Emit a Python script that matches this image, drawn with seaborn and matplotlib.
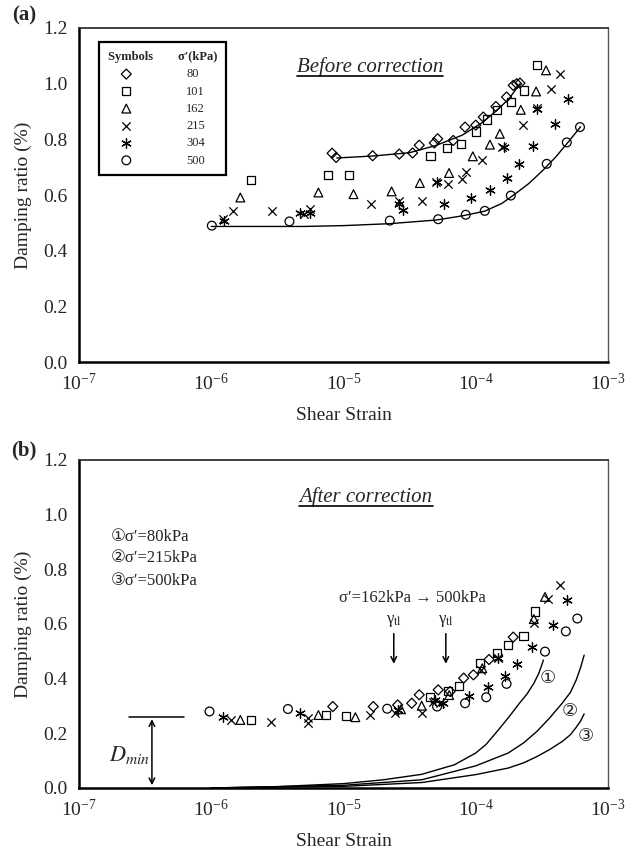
import numpy as np
import seaborn as sns
import matplotlib.pyplot as plt
from matplotlib.lines import Line2D
from matplotlib.ticker import NullLocator, FormatStrFormatter

# ---------------- (a) before correction ----------------
a80_x = [8.2e-6, 8.8e-6, 1.66e-5, 2.64e-5, 3.33e-5, 3.74e-5, 4.86e-5, 5.15e-5, 6.76e-5,
         8.3e-5, 1.0e-4, 1.14e-4, 1.42e-4, 1.71e-4, 1.92e-4, 2.04e-4, 2.16e-4]
a80_y = [0.75, 0.735, 0.741, 0.747, 0.751, 0.779, 0.787, 0.802, 0.796,
         0.844, 0.851, 0.880, 0.918, 0.952, 0.994, 1.0, 1.002]
a101_x = [1.99e-6, 7.6e-6, 1.10e-5, 4.56e-5, 6.03e-5, 7.73e-5, 1.0e-4, 1.22e-4, 1.44e-4,
          1.84e-4, 2.32e-4, 2.92e-4]
a101_y = [0.655, 0.673, 0.673, 0.739, 0.769, 0.784, 0.828, 0.871, 0.905,
          0.934, 0.976, 1.068]
a162_x = [1.66e-6, 6.46e-6, 1.19e-5, 2.31e-5, 3.78e-5, 6.28e-5, 9.5e-5, 1.28e-4, 1.52e-4,
          2.19e-4, 2.86e-4, 3.40e-4]
a162_y = [0.591, 0.609, 0.603, 0.613, 0.643, 0.679, 0.739, 0.781, 0.820,
          0.906, 0.972, 1.048]
a215_x = [1.23e-6, 1.45e-6, 2.9e-6, 5.0e-6, 5.58e-6, 1.61e-5, 2.64e-5, 3.9e-5, 4.98e-5,
          6.19e-5, 7.9e-5, 8.5e-5, 1.11e-4, 1.57e-4, 2.26e-4, 2.92e-4, 3.69e-4, 4.34e-4]
a215_y = [0.513, 0.541, 0.541, 0.532, 0.549, 0.567, 0.577, 0.577, 0.646,
          0.639, 0.657, 0.681, 0.727, 0.771, 0.850, 0.912, 0.981, 1.036]
a304_x = [1.25e-6, 4.69e-6, 5.58e-6, 2.64e-5, 2.83e-5, 5.06e-5, 5.78e-5, 9.2e-5, 1.28e-4,
          1.64e-4, 1.71e-4, 2.14e-4, 2.72e-4, 2.92e-4, 3.98e-4, 4.95e-4]
a304_y = [0.506, 0.537, 0.537, 0.567, 0.547, 0.646, 0.567, 0.591, 0.619,
          0.772, 0.661, 0.711, 0.777, 0.909, 0.856, 0.946]
a500_x = [1.01e-6, 3.9e-6, 2.24e-5, 5.2e-5, 8.4e-5, 1.17e-4, 1.84e-4, 3.44e-4, 4.88e-4, 6.14e-4]
a500_y = [0.490, 0.505, 0.508, 0.513, 0.529, 0.543, 0.598, 0.712, 0.789, 0.844]

# fitted curves drawn in (a)
fit80_x = [8.9e-6, 1.66e-5, 3.16e-5, 5.0e-5, 7.9e-5, 1.12e-4, 1.41e-4, 1.78e-4, 2.16e-4]
fit80_y = [0.733, 0.740, 0.752, 0.778, 0.815, 0.860, 0.900, 0.945, 1.0]
fit500_x = [1.0e-6, 5.0e-6, 1.0e-5, 2.24e-5, 5.0e-5, 7.9e-5, 1.17e-4, 1.58e-4, 2.0e-4,
            2.5e-4, 3.16e-4, 4.0e-4, 5.0e-4, 6.2e-4]
fit500_y = [0.487, 0.487, 0.490, 0.497, 0.510, 0.525, 0.542, 0.570, 0.605,
            0.640, 0.685, 0.735, 0.790, 0.845]

# ---------------- (b) after correction ----------------
b80_x = [8.3e-6, 1.68e-5, 2.57e-5, 3.28e-5, 3.74e-5, 5.2e-5, 6.4e-5, 8.1e-5, 9.6e-5,
         1.26e-4, 1.92e-4]
b80_y = [0.298, 0.298, 0.304, 0.31, 0.341, 0.359, 0.353, 0.402, 0.414, 0.47, 0.552]
b101_x = [2.0e-6, 7.4e-6, 1.05e-5, 4.5e-5, 6.2e-5, 7.5e-5, 1.08e-4, 1.44e-4, 1.76e-4,
          2.29e-4, 2.81e-4]
b101_y = [0.249, 0.267, 0.264, 0.334, 0.356, 0.374, 0.457, 0.493, 0.524, 0.557, 0.646]
b162_x = [1.66e-6, 6.46e-6, 1.23e-5, 2.72e-5, 3.9e-5, 6.3e-5, 1.12e-4, 2.75e-4, 3.34e-4]
b162_y = [0.249, 0.267, 0.259, 0.288, 0.301, 0.34, 0.438, 0.618, 0.699]
b215_x = [1.41e-6, 2.85e-6, 5.43e-6, 5.43e-6, 1.58e-5, 2.45e-5, 3.9e-5, 4.78e-5, 5.35e-5,
          1.09e-4, 1.48e-4, 2.75e-4, 3.54e-4, 4.34e-4]
b215_y = [0.247, 0.243, 0.255, 0.237, 0.267, 0.274, 0.276, 0.316, 0.31,
          0.432, 0.475, 0.603, 0.691, 0.744]
b304_x = [1.23e-6, 4.68e-6, 2.6e-5, 4.95e-5, 5.7e-5, 8.9e-5, 1.24e-4, 1.48e-4, 1.66e-4,
          2.04e-4, 2.65e-4, 3.86e-4, 4.86e-4]
b304_y = [0.259, 0.276, 0.285, 0.322, 0.31, 0.337, 0.371, 0.475, 0.408,
          0.454, 0.515, 0.597, 0.686]
b500_x = [9.7e-7, 3.8e-6, 2.14e-5, 5.1e-5, 8.3e-5, 1.2e-4, 1.71e-4, 3.34e-4, 4.8e-4, 5.86e-4]
b500_y = [0.280, 0.289, 0.29, 0.298, 0.31, 0.332, 0.381, 0.499, 0.573, 0.62]

# model curves 1, 2, 3 in (b)
c1_x = [1.0e-6, 3.16e-6, 1.0e-5, 2.0e-5, 3.9e-5, 6.9e-5, 1.0e-4, 1.2e-4, 1.45e-4, 1.75e-4,
        2.14e-4, 2.45e-4, 2.75e-4, 3.0e-4, 3.25e-4]
c1_y = [0.0, 0.005, 0.016, 0.03, 0.05, 0.085, 0.128, 0.16, 0.207, 0.255,
        0.31, 0.345, 0.383, 0.42, 0.468]
c2_x = [1.0e-6, 1.0e-5, 3.9e-5, 1.0e-4, 1.76e-4, 2.3e-4, 2.9e-4, 3.6e-4, 4.5e-4, 5.2e-4,
        5.75e-4, 6.2e-4, 6.6e-4]
c2_y = [0.0, 0.01, 0.03, 0.081, 0.128, 0.165, 0.207, 0.255, 0.31, 0.35,
        0.395, 0.44, 0.486]
c3_x = [1.0e-6, 1.0e-5, 3.9e-5, 1.0e-4, 1.76e-4, 2.3e-4, 2.9e-4, 3.6e-4, 4.5e-4, 5.2e-4,
        5.75e-4, 6.2e-4, 6.6e-4]
c3_y = [0.0, 0.006, 0.02, 0.049, 0.073, 0.092, 0.115, 0.14, 0.17, 0.195,
        0.222, 0.245, 0.271]

stress_labels = ['80', '101', '162', '215', '304', '500']
markers = ['D', 's', '^', 'x', (6, 2, 0), 'o']
sizes = [26, 36, 40, 36, 48, 40]

xticks = [1e-7, 1e-6, 1e-5, 1e-4, 1e-3]
yticks = [0.0, 0.2, 0.4, 0.6, 0.8, 1.0, 1.2]

sns.set_style('white')
sym_font = ['Liberation Serif', 'DejaVu Sans', 'Noto Sans CJK JP']
plt.rcParams['font.family'] = sym_font
plt.rcParams['mathtext.fontset'] = 'stix'

fig = plt.figure(figsize=(6.27, 8.51), dpi=100)
ax1 = fig.add_axes([79 / 627, 1 - 362 / 851, 529 / 627, 334 / 851])
ax2 = fig.add_axes([79 / 627, 1 - 788 / 851, 529 / 627, 328 / 851])


def points(ax, x, y, m, s, label=None):
    if m in ('x', (6, 2, 0)):
        sns.scatterplot(x=x, y=y, marker=m, s=s, color='k', linewidth=0.9,
                        ax=ax, label=label, zorder=3)
    else:
        sns.scatterplot(x=x, y=y, marker=m, s=s, facecolor='none', edgecolor='k',
                        linewidth=0.9, ax=ax, label=label, zorder=3)


def style_axes(ax):
    ax.set_xscale('log')
    ax.set_xlim(1e-7, 1e-3)
    ax.set_ylim(0, 1.2)
    ax.set_xticks(xticks)
    ax.xaxis.set_minor_locator(NullLocator())
    ax.set_yticks(yticks)
    ax.yaxis.set_major_formatter(FormatStrFormatter('%.1f'))
    ax.tick_params(axis='x', direction='in', length=6, width=1.2, labelsize=14, pad=8)
    ax.tick_params(axis='y', direction='out', length=5, width=1.2, labelsize=14, pad=3)
    for sp in ['left', 'bottom']:
        ax.spines[sp].set_linewidth(1.8)
        ax.spines[sp].set_color('k')
    ax.spines['top'].set_linewidth(1.3)
    ax.spines['top'].set_color('#333333')
    ax.spines['right'].set_linewidth(1.0)
    ax.spines['right'].set_color('#555555')
    ax.set_xlabel('Shear Strain', fontsize=14, labelpad=9)
    ax.set_ylabel('Damping ratio (%)', fontsize=14, labelpad=8)


# panel (a)
a_x = [a80_x, a101_x, a162_x, a215_x, a304_x, a500_x]
a_y = [a80_y, a101_y, a162_y, a215_y, a304_y, a500_y]
for x, y, m, s, lab in zip(a_x, a_y, markers, sizes, stress_labels):
    points(ax1, x, y, m, s, lab)
sns.lineplot(x=fit80_x, y=fit80_y, color='k', linewidth=1.0, sort=False, estimator=None, ax=ax1)
sns.lineplot(x=fit500_x, y=fit500_y, color='k', linewidth=1.0, sort=False, estimator=None, ax=ax1)
style_axes(ax1)

leg = ax1.legend(loc='upper left', bbox_to_anchor=(0.038, 0.957),
                 title='Symbols        σ′(kPa)', fontsize=9,
                 title_fontproperties={'weight': 'bold', 'size': 9, 'family': sym_font},
                 frameon=True, fancybox=False, edgecolor='k', framealpha=1,
                 handletextpad=4.3, borderpad=0.7, labelspacing=0.42,
                 handlelength=1.0, scatterpoints=1, borderaxespad=0)
leg.get_frame().set_linewidth(1.6)

t_before = ax1.text(1.58e-5, 1.06, 'Before correction', style='italic', fontsize=15,
                    ha='center', va='center')

# panel (b)
b_x = [b80_x, b101_x, b162_x, b215_x, b304_x, b500_x]
b_y = [b80_y, b101_y, b162_y, b215_y, b304_y, b500_y]
for x, y, m, s in zip(b_x, b_y, markers, sizes):
    points(ax2, x, y, m, s)
for cx, cy in [(c1_x, c1_y), (c2_x, c2_y), (c3_x, c3_y)]:
    sns.lineplot(x=cx, y=cy, color='k', linewidth=1.0, sort=False, estimator=None, ax=ax2)
style_axes(ax2)

t_after = ax2.text(1.48e-5, 1.065, 'After correction', style='italic', fontsize=15,
                   ha='center', va='center')
for yy, txt in zip([0.92, 0.841, 0.756], ['①σ′=80kPa', '②σ′=215kPa', '③σ′=500kPa']):
    ax2.text(1.75e-7, yy, txt, fontsize=12, ha='left', va='center', family=sym_font)
ax2.text(9.3e-6, 0.695, 'σ′=162kPa → 500kPa', fontsize=12, ha='left', va='center',
         family=sym_font)
for gx in [2.4e-5, 5.94e-5]:
    ax2.annotate('', xy=(gx, 0.444), xytext=(gx, 0.575),
                 arrowprops=dict(arrowstyle='->', color='k', lw=1.1))
    ax2.text(gx, 0.612, r'γ$_{\mathrm{tl}}$', fontsize=12, ha='center', va='center')
for lx, ly, lab in [(3.5e-4, 0.40, '①'), (5.1e-4, 0.28, '②'), (6.8e-4, 0.19, '③')]:
    ax2.text(lx, ly, lab, fontsize=13, ha='center', va='center', family=sym_font)

# D_min marker
ax2.plot([2.4e-7, 6.25e-7], [0.259, 0.259], color='k', lw=1.1)
ax2.annotate('', xy=(3.56e-7, 0.0), xytext=(3.56e-7, 0.262),
             arrowprops=dict(arrowstyle='<->', color='k', lw=1.1))
ax2.text(3.45e-7, 0.12, r'$D_{min}$', fontsize=16, ha='right', va='center')

fig.text(24 / 627, 1 - 15 / 851, '(a)', fontsize=15, fontweight='bold', ha='center', va='center')
fig.text(24 / 627, 1 - 450 / 851, '(b)', fontsize=15, fontweight='bold', ha='center', va='center')

# underline the two titles
fig.canvas.draw()
inv = fig.transFigure.inverted()
for t in [t_before, t_after]:
    bb = t.get_window_extent().transformed(inv)
    fig.add_artist(Line2D([bb.x0, bb.x1], [bb.y0 + 0.001, bb.y0 + 0.001],
                          transform=fig.transFigure, color='k', lw=1.2))

fig.savefig('out.png', dpi=100)
